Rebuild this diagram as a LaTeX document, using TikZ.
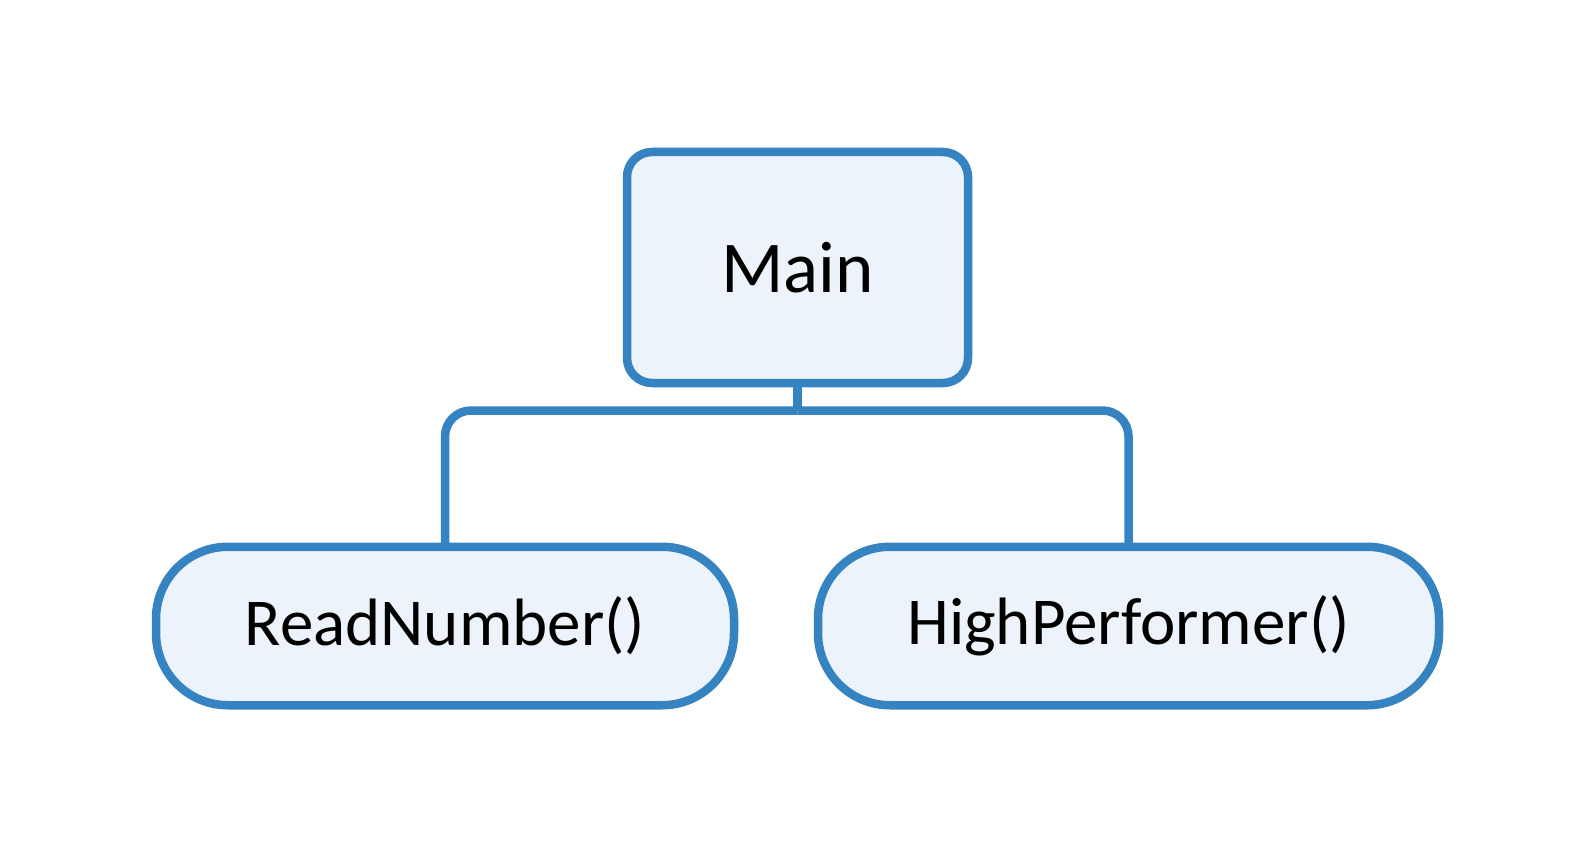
\documentclass[tikz,border=0pt]{standalone}
\usepackage{fontspec}
\setmainfont{Carlito}
\definecolor{edgeblue}{RGB}{53,132,193}
\definecolor{boxfill}{RGB}{236,243,250}
\begin{document}
\begin{tikzpicture}[x=1pt,y=-1pt,
  box/.style={draw=edgeblue, fill=boxfill, line width=8.5pt, inner sep=0pt, outer sep=0pt, text=black},
  mainbox/.style={box, rounded corners=25pt, minimum width=341pt, minimum height=231pt, font=\fontsize{73}{88}\selectfont},
  funcbox/.style={box, rounded corners=72pt, minimum height=158.5pt, font=\fontsize{67}{80}\selectfont},
  conn/.style={draw=edgeblue, line width=8.5pt, rounded corners=26pt}]
\useasboundingbox[fill=white] (0,0) rectangle (1596,861);
\node[mainbox] (main) at (797.5,267.5) {Main};
\node[funcbox, minimum width=578pt] (rn) at (445,626) {ReadNumber()};
\node[funcbox, minimum width=621pt] (hp) at (1128.5,626) {HighPerformer()};
\draw[conn] (main.south) -- ++(0,27.5) coordinate (j);
\draw[conn] (j) -| (rn.north);
\draw[conn] (j) -| (hp.north);
\end{tikzpicture}
\end{document}
